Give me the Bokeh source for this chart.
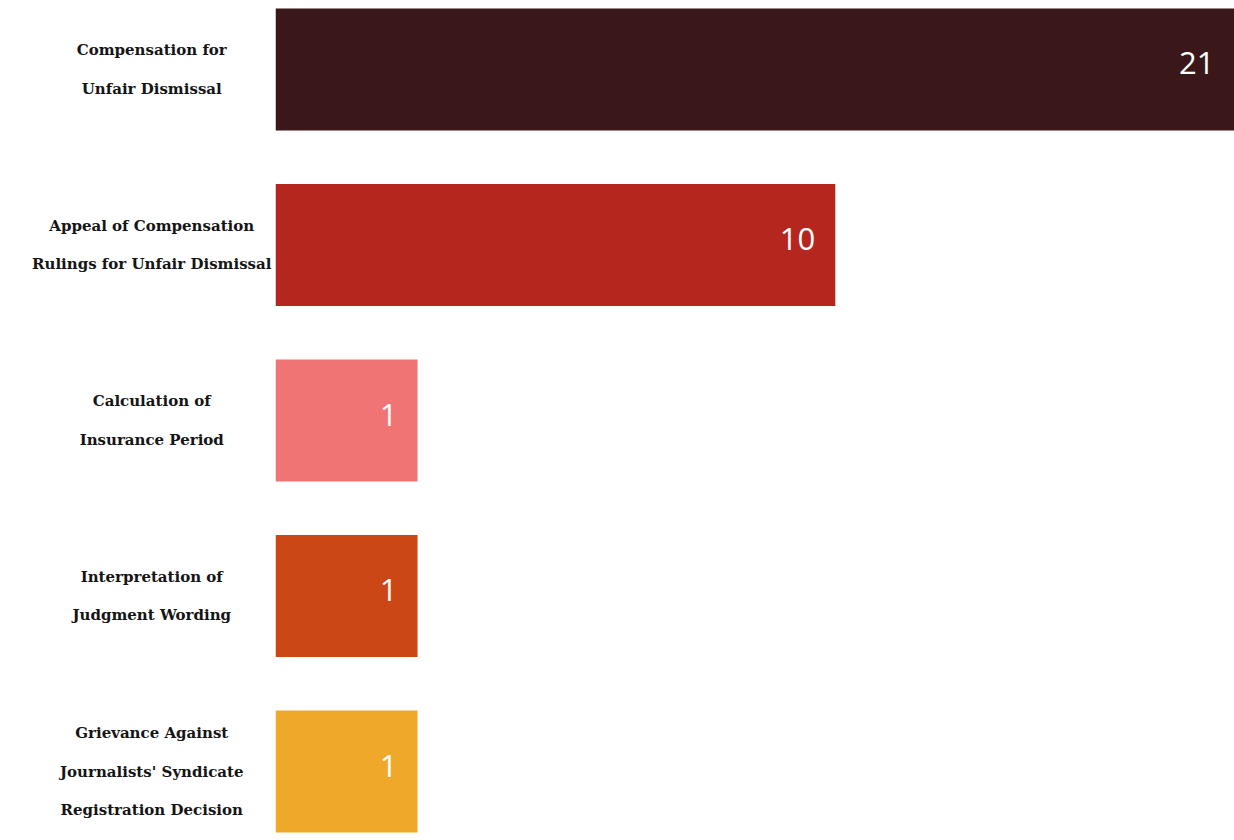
from bokeh.plotting import figure
from bokeh.layouts import row
from bokeh.models import ColumnDataSource, FactorRange, Range1d
from bokeh.core.properties import value
from bokeh.embed import file_html
from bokeh.resources import INLINE

# ---- data ----
categories = [
    "Compensation for\nUnfair Dismissal",
    "Appeal of Compensation\nRulings for Unfair Dismissal",
    "Calculation of\nInsurance Period",
    "Interpretation of\nJudgment Wording",
    "Grievance Against\nJournalists' Syndicate\nRegistration Decision",
]
counts = [21, 10, 1, 1, 1]
colors = ["#3a1719", "#b5261e", "#f07474", "#cc4716", "#f0a82a"]

# ---- layout constants ----
X_START, X_END = -2.06, 18.6
H = 840

y_range = FactorRange(factors=list(reversed(categories)),
                      range_padding=-0.107, range_padding_units="absolute")

src = ColumnDataSource(dict(
    cat=categories,
    count=counts,
    color=colors,
    left=[X_START] * len(counts),
    label_x=[min(v, X_END) for v in counts],
    label=[str(v) for v in counts],
))

# label panel
lab = figure(width=275, height=H, x_range=Range1d(0, 1), y_range=y_range,
             output_backend="svg", toolbar_location=None, min_border=0)
lab.axis.visible = False
lab.grid.visible = False
lab.outline_line_color = None
lab.text(x=0.55, y="cat", text="cat", source=src,
         text_font=value("DejaVu Serif"), text_font_size="15px",
         text_font_style="bold",
         text_color="#151515", text_align="center", text_baseline="middle",
         text_line_height=2.15)

# bar panel
p = figure(width=959, height=H, x_range=Range1d(X_START, X_END), y_range=y_range,
           output_backend="svg", toolbar_location=None, min_border=0)
p.axis.visible = False
p.grid.visible = False
p.outline_line_color = None
p.hbar(y="cat", left="left", right="count", height=0.695, color="color",
       source=src, line_color=None)
p.text(x="label_x", y="cat", text="label", source=src,
       text_font=value("Open Sans"), text_font_size="31px",
       text_color="white", text_align="right", text_baseline="middle",
       x_offset=-20, y_offset=-6)

layout = row(lab, p, spacing=0)
open("out.html", "w").write(file_html(layout, INLINE))
